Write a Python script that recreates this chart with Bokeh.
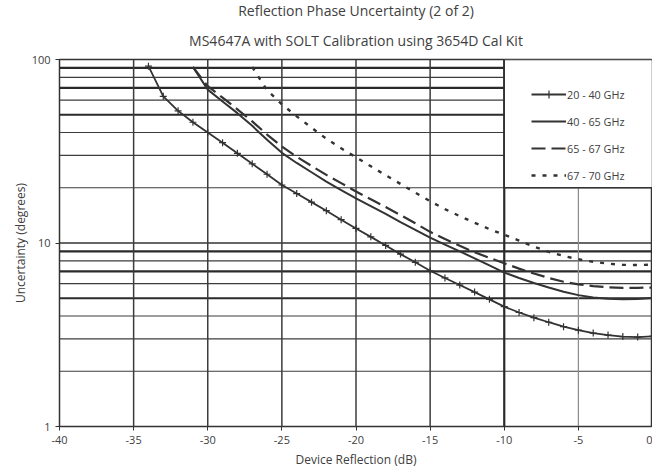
from bokeh.plotting import figure
from bokeh.models import (Range1d, FixedTicker, Span, Legend, LegendItem, Title)
from bokeh.embed import file_html
from bokeh.resources import INLINE

# ---------------- data ----------------
title_line1 = "Reflection Phase Uncertainty (2 of 2)"
title_line2 = "MS4647A with SOLT Calibration using 3654D Cal Kit"
x_label = "Device Reflection (dB)"
y_label = "Uncertainty (degrees)"

x_ticks = [-40, -35, -30, -25, -20, -15, -10, -5, 0]
y_ticks = [1, 10, 100]

series_names = ["20 - 40 GHz", "40 - 65 GHz", "65 - 67 GHz", "67 - 70 GHz"]

refl_20_40 = list(range(-34, 1))
unc_20_40 = [92, 63, 52.5, 45.5, 40, 35.2, 30.8, 27.0, 23.7, 20.7,
             18.6, 16.7, 15.0, 13.4, 12.0, 10.8, 9.7, 8.7, 7.85, 7.06,
             6.45, 5.9, 5.4, 4.93, 4.5, 4.18, 3.92, 3.7, 3.5, 3.35,
             3.23, 3.15, 3.09, 3.07, 3.1]

refl_40_65 = list(range(-31, 1))
unc_40_65 = [91, 68.5, 59, 51, 43.5, 36.5, 31, 27.3, 24.3, 21.6,
             19.4, 17.5, 15.9, 14.4, 13.0, 11.8, 10.7, 9.8, 9.0, 8.25,
             7.55, 6.9, 6.45, 6.05, 5.72, 5.43, 5.2, 5.05, 4.97, 4.94,
             4.96, 5.02]

refl_65_67 = list(range(-31, 1))
unc_65_67 = [91, 71.5, 62, 53.5, 46, 39, 33.6, 29.5, 26.3, 23.5,
             21.2, 19.1, 17.3, 15.7, 14.2, 12.8, 11.5, 10.5, 9.65, 8.9,
             8.3, 7.75, 7.25, 6.82, 6.45, 6.15, 5.95, 5.82, 5.74, 5.7,
             5.7, 5.72]

refl_67_70 = list(range(-27, 1))
unc_67_70 = [91, 68, 57, 49, 42.5, 37, 32.8, 29.3, 26.2, 23.4,
             21, 18.8, 16.9, 15.3, 14.0, 12.9, 11.9, 11.1, 10.3, 9.55,
             8.95, 8.5, 8.15, 7.9, 7.72, 7.6, 7.58, 7.62]

# gridline levels (styling of the log grid)
grid_thin = [2, 3, 4, 6, 8, 20, 30, 40, 60, 80]
grid_thick = [5, 7, 9, 50, 70, 90]
grid_mid = [10]
vgrid_mid = [-35, -30, -25, -20, -15]
vgrid_thick = [-10]
vgrid_light = [-5]
legend_box = dict(left=[-10], right=[0], bottom=[20], top=[100])

# ---------------- style ----------------
FONT = "Open Sans"
TEXT = "#404040"
INK = "#333333"

p = figure(frame_width=593, frame_height=367, output_backend="svg",
           toolbar_location=None,
           y_axis_type="log", x_range=Range1d(-40, 0), y_range=Range1d(1, 100),
           min_border_left=59, min_border_right=0, min_border_bottom=0,
           min_border_top=0)
p.title = None
p.xgrid.visible = False
p.ygrid.visible = False
p.outline_line_color = INK
p.outline_line_width = 1.5
p.background_fill_color = "white"
p.border_fill_color = "white"

# two centred title lines
p.add_layout(Title(text=title_line2, align="center", text_font=FONT,
                   text_font_size="14px", text_font_style="normal",
                   text_color=TEXT, standoff=20), "above")
p.add_layout(Title(text=title_line1, align="center", text_font=FONT,
                   text_font_size="14px", text_font_style="normal",
                   text_color=TEXT, standoff=-3), "above")

# axes
for ax in (p.xaxis[0], p.yaxis[0]):
    ax.major_label_text_font = FONT
    ax.major_label_text_font_size = "11px"
    ax.major_label_text_color = TEXT
    ax.axis_label_text_font = FONT
    ax.axis_label_text_font_size = "12px"
    ax.axis_label_text_font_style = "normal"
    ax.axis_label_text_color = TEXT
    ax.axis_line_color = INK
    ax.major_tick_line_color = INK
    ax.major_tick_in = 0
    ax.major_tick_out = 4
    ax.minor_tick_line_color = None

p.xaxis.ticker = FixedTicker(ticks=x_ticks)
p.xaxis.major_label_overrides = {t: str(t) for t in x_ticks}
p.xaxis.axis_label = x_label
p.xaxis.major_label_standoff = 5
p.xaxis.axis_label_standoff = 4

p.yaxis.ticker = FixedTicker(ticks=y_ticks, minor_ticks=[])
p.yaxis.major_label_overrides = {t: str(t) for t in y_ticks}
p.yaxis.axis_label = y_label
p.yaxis.major_label_standoff = 5
p.yaxis.axis_label_standoff = 0

# grid lines
def hline(v, w, c):
    p.add_layout(Span(location=v, dimension="width", line_color=c, line_width=w,
                      level="underlay"))

def vline(v, w, c):
    p.add_layout(Span(location=v, dimension="height", line_color=c, line_width=w,
                      level="underlay"))

for v in grid_thin:
    hline(v, 1.2, "#3c3c3c")
for v in grid_thick:
    hline(v, 2.2, "#2a2a2a")
for v in grid_mid:
    hline(v, 1.6, "#333333")
for v in vgrid_mid:
    vline(v, 1.5, "#3c3c3c")
for v in vgrid_thick:
    vline(v, 2.2, "#2a2a2a")
for v in vgrid_light:
    vline(v, 1.2, "#8a8a8a")

# legend panel (covers the grid)
p.quad(fill_color="white", fill_alpha=1.0, line_color=INK, line_width=1.5,
       **legend_box)

# curves
r1 = p.line(refl_20_40, unc_20_40, line_color=INK, line_width=1.8)
r1m = p.scatter(refl_20_40, unc_20_40, marker="cross", size=7,
                line_color=INK, line_width=1.2)
r2 = p.line(refl_40_65, unc_40_65, line_color=INK, line_width=2.0)
r3 = p.line(refl_65_67, unc_65_67, line_color=INK, line_width=2.2,
            line_dash="14 6")
r4 = p.line(refl_67_70, unc_67_70, line_color=INK, line_width=2.4,
            line_dash="4 7")

legend = Legend(items=[
    LegendItem(label=series_names[0], renderers=[r1, r1m]),
    LegendItem(label=series_names[1], renderers=[r2]),
    LegendItem(label=series_names[2], renderers=[r3]),
    LegendItem(label=series_names[3], renderers=[r4]),
], location=(472, 241), padding=0, margin=0, spacing=7, glyph_width=35,
    glyph_height=20, label_height=20, label_standoff=1,
    border_line_color=None, background_fill_alpha=0,
    label_text_font=FONT, label_text_font_size="10.8px", label_text_color=TEXT)
p.add_layout(legend)

open("out.html", "w").write(file_html(p, INLINE))
